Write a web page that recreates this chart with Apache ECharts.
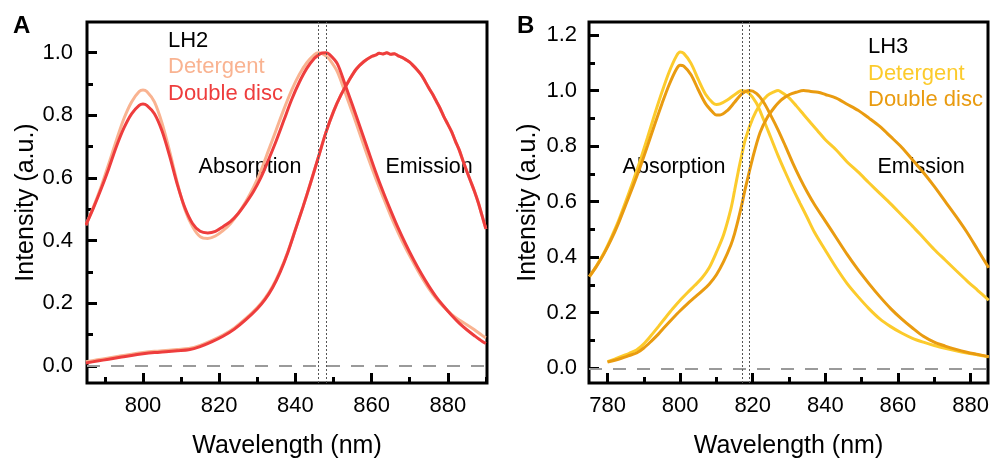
<!DOCTYPE html>
<html>
<head>
<meta charset="utf-8">
<script src="https://cdn.jsdelivr.net/npm/echarts@6/dist/echarts.min.js"></script>
<style>
  html, body { margin: 0; padding: 0; background: #fff; }
  #chart { width: 992px; height: 462px; }
</style>
</head>
<body>
<div id="chart"></div>
<script>
// ---- Panel A: LH2 absorption (normalised) ----
const lh2AbsWl = [785,787,789,791,793,795,797,799,800,801,803,805,807,809,811,813,815,817,819,821,823,825,827,829,831,833,835,837,839,841,843,845,846,847,848,849,851,853,855,857,859,861,863,865,867,869,871,873,875,877,879,881,883,885,887,889,890];
const lh2AbsDetergent = [0.450,0.508,0.572,0.645,0.720,0.790,0.843,0.876,0.881,0.876,0.843,0.775,0.685,0.585,0.500,0.445,0.413,0.407,0.415,0.432,0.455,0.487,0.525,0.570,0.625,0.690,0.755,0.820,0.880,0.930,0.968,0.994,1.000,0.997,0.990,0.978,0.940,0.875,0.808,0.738,0.668,0.602,0.540,0.480,0.425,0.375,0.330,0.287,0.248,0.215,0.188,0.165,0.147,0.132,0.116,0.098,0.090];
const lh2AbsDoubleDisc = [0.450,0.505,0.565,0.630,0.700,0.760,0.805,0.832,0.836,0.832,0.805,0.750,0.670,0.580,0.505,0.455,0.430,0.425,0.430,0.445,0.462,0.487,0.520,0.557,0.603,0.660,0.720,0.785,0.850,0.905,0.950,0.982,0.992,0.999,1.000,0.994,0.965,0.900,0.832,0.762,0.692,0.622,0.557,0.497,0.440,0.388,0.340,0.296,0.256,0.220,0.190,0.162,0.137,0.116,0.097,0.079,0.072];

// ---- Panel A: LH2 emission (normalised) ----
const lh2EmWl = [785,788,791,794,797,800,803,806,809,812,815,818,821,824,827,830,832,834,836,838,840,842,844,846,848,850,852,854,856,858,860,861,862,863,864,865,866,867,868,869,870,871,872,873,874,875,876,877,878,879,880,881,882,883,884,885,886,887,888,889,890];
const lh2EmDetergent = [0.014,0.020,0.026,0.032,0.038,0.043,0.047,0.050,0.053,0.056,0.066,0.081,0.099,0.122,0.152,0.187,0.216,0.254,0.304,0.364,0.436,0.508,0.585,0.665,0.745,0.812,0.866,0.910,0.948,0.972,0.988,0.992,0.998,0.996,1.000,0.995,0.997,0.990,0.985,0.978,0.970,0.958,0.945,0.930,0.910,0.888,0.868,0.845,0.822,0.795,0.772,0.748,0.718,0.690,0.655,0.622,0.590,0.558,0.522,0.480,0.438];
const lh2EmDoubleDisc = [0.010,0.016,0.022,0.028,0.034,0.039,0.043,0.046,0.049,0.052,0.062,0.077,0.095,0.118,0.148,0.183,0.212,0.250,0.300,0.362,0.435,0.508,0.585,0.665,0.745,0.812,0.866,0.910,0.948,0.972,0.988,0.992,0.998,0.996,1.000,0.995,0.997,0.990,0.985,0.978,0.970,0.958,0.945,0.930,0.910,0.888,0.868,0.845,0.822,0.795,0.772,0.748,0.718,0.690,0.655,0.622,0.590,0.558,0.522,0.480,0.438];

// ---- Panel B: LH3 absorption (normalised) ----
const lh3AbsWl = [775,777,779,781,783,785,787,789,791,793,795,797,799,800,801,803,805,807,809,810,811,813,815,817,819,821,823,825,827,829,831,833,835,837,840,843,846,849,852,855,858,861,864,867,870,873,876,879,882,885];
const lh3AbsDetergent = [0.330,0.370,0.415,0.470,0.530,0.600,0.672,0.748,0.830,0.915,0.995,1.068,1.125,1.139,1.134,1.098,1.040,0.987,0.956,0.950,0.952,0.966,0.985,1.000,0.990,0.955,0.895,0.830,0.765,0.705,0.648,0.595,0.543,0.490,0.425,0.362,0.305,0.258,0.215,0.178,0.150,0.127,0.108,0.094,0.082,0.072,0.063,0.055,0.048,0.041];
const lh3AbsDoubleDisc = [0.330,0.368,0.412,0.463,0.522,0.588,0.655,0.725,0.800,0.878,0.953,1.022,1.078,1.091,1.088,1.057,1.003,0.953,0.922,0.912,0.912,0.928,0.958,0.988,1.000,0.990,0.958,0.910,0.858,0.800,0.740,0.685,0.635,0.590,0.530,0.470,0.410,0.355,0.305,0.258,0.215,0.178,0.145,0.115,0.094,0.080,0.068,0.058,0.050,0.042];

// ---- Panel B: LH3 emission (normalised) ----
const lh3EmWl = [780,782,784,786,788,790,792,794,796,798,800,802,804,806,808,810,812,814,815,816,817,818,820,822,824,826,827,828,830,832,834,836,838,840,843,846,849,852,855,858,861,864,867,870,873,876,879,882,885];
const lh3EmDetergent = [0.024,0.033,0.044,0.054,0.066,0.088,0.118,0.150,0.183,0.215,0.245,0.272,0.298,0.325,0.362,0.418,0.482,0.575,0.640,0.708,0.770,0.826,0.900,0.950,0.982,0.996,1.000,0.993,0.974,0.945,0.914,0.883,0.853,0.823,0.786,0.743,0.707,0.668,0.630,0.592,0.552,0.512,0.470,0.428,0.390,0.352,0.315,0.280,0.245];
const lh3EmDoubleDisc = [0.022,0.029,0.037,0.046,0.055,0.073,0.097,0.123,0.152,0.180,0.207,0.232,0.255,0.278,0.303,0.337,0.385,0.445,0.485,0.535,0.590,0.650,0.758,0.848,0.903,0.940,0.955,0.968,0.985,0.994,1.000,0.997,0.994,0.986,0.973,0.951,0.929,0.901,0.871,0.834,0.796,0.751,0.705,0.655,0.601,0.547,0.490,0.426,0.362];

// ---- Axis ticks ----
const lh2MajorX = [800, 820, 840, 860, 880];
const lh2MinorX = [790, 810, 830, 850, 870, 890];
const lh2MajorY = [0, 0.2, 0.4, 0.6, 0.8, 1.0];
const lh2MinorY = [0.1, 0.3, 0.5, 0.7, 0.9];
const lh3MajorX = [780, 800, 820, 840, 860, 880];
const lh3MinorX = [790, 810, 830, 850, 870];
const lh3MajorY = [0, 0.2, 0.4, 0.6, 0.8, 1.0, 1.2];
const lh3MinorY = [0.1, 0.3, 0.5, 0.7, 0.9, 1.1];

const FONT = 'Liberation Sans, Arial, Helvetica, sans-serif';
const COLORS = {
  lh2Det: '#F9B391', lh2Dd: '#EE3D3D',
  lh3Det: '#FCCB2C', lh3Dd: '#E99B10'
};

const pairs = (xs, ys) => xs.map((x, i) => [x, ys[i]]);

// Wavelength of the strongest point of the Qy band (above `from` nm)
function peakOf(xs, ys, from) {
  let best = -1, at = xs[0];
  xs.forEach((x, i) => { if (x >= from && ys[i] > best) { best = ys[i]; at = x; } });
  return at;
}

function xAxesFor(gridIndex, min, max, major, minor) {
  return [
    {
      type: 'value', gridIndex, position: 'bottom', min, max,
      axisLine: { show: false, onZero: false }, splitLine: { show: false },
      axisTick: { inside: true, length: 10, customValues: major, lineStyle: { color: '#000', width: 3 } },
      axisLabel: { customValues: major, margin: 12, fontSize: 22, color: '#000', fontFamily: FONT,
                   formatter: v => String(Math.round(v)) },
      name: 'Wavelength (nm)', nameLocation: 'middle', nameGap: 51,
      nameTextStyle: { fontSize: 25, color: '#000', fontFamily: FONT }
    },
    {
      type: 'value', gridIndex, position: 'bottom', min, max,
      axisLine: { show: false, onZero: false }, splitLine: { show: false },
      axisTick: { inside: true, length: 6, customValues: minor, lineStyle: { color: '#000', width: 3 } },
      axisLabel: { show: false }
    }
  ];
}

function yAxesFor(gridIndex, min, max, major, minor, margin) {
  return [
    {
      type: 'value', gridIndex, position: 'left', min, max,
      axisLine: { show: false, onZero: false }, splitLine: { show: false },
      axisTick: { inside: true, length: 10, customValues: major, lineStyle: { color: '#000', width: 3 } },
      axisLabel: { customValues: major, margin, fontSize: 22, color: '#000', fontFamily: FONT,
                   formatter: v => v.toFixed(1) },
      name: 'Intensity (a.u.)', nameLocation: 'middle', nameGap: 48,
      nameTextStyle: { fontSize: 25, color: '#000', fontFamily: FONT }
    },
    {
      type: 'value', gridIndex, position: 'left', min, max,
      axisLine: { show: false, onZero: false }, splitLine: { show: false },
      axisTick: { inside: true, length: 6, customValues: minor, lineStyle: { color: '#000', width: 3 } },
      axisLabel: { show: false }
    }
  ];
}

function curve(xAxisIndex, yAxisIndex, data, color, extra) {
  return Object.assign({
    type: 'line', xAxisIndex, yAxisIndex, data,
    showSymbol: false, smooth: 0.3, silent: true,
    lineStyle: { color, width: 3 }
  }, extra || {});
}

// Zero baseline and peak markers drawn as mark lines
function guides(peaks) {
  return {
    markLine: {
      silent: true, symbol: ['none', 'none'], label: { show: false },
      data: [
        { yAxis: 0, lineStyle: { color: '#9a9a9a', width: 2, type: [13, 11] } }
      ].concat(peaks.map(p => ({ xAxis: p, lineStyle: { color: '#555', width: 1, type: [2, 2] } })))
    }
  };
}

const lh2Peaks = [peakOf(lh2AbsWl, lh2AbsDetergent, 830), peakOf(lh2AbsWl, lh2AbsDoubleDisc, 830)];
const lh3Peaks = [peakOf(lh3AbsWl, lh3AbsDetergent, 812), peakOf(lh3AbsWl, lh3AbsDoubleDisc, 812)];

function textItem(x, y, text, fill, opts) {
  return {
    type: 'text', silent: true,
    style: Object.assign({ x, y, text, fill, fontSize: 22, fontFamily: FONT, align: 'left', verticalAlign: 'middle' }, opts || {})
  };
}

const gridBase = { show: true, borderColor: '#000', borderWidth: 3, backgroundColor: 'transparent',
                   containLabel: false, outerBoundsMode: 'none' };

const option = {
  animation: false,
  backgroundColor: '#fff',
  grid: [
    Object.assign({ left: 87, top: 22, width: 400, height: 361 }, gridBase),
    Object.assign({ left: 589, top: 22, width: 399, height: 361 }, gridBase)
  ],
  xAxis: [
    ...xAxesFor(0, 785.3, 890.3, lh2MajorX, lh2MinorX),
    ...xAxesFor(1, 774.9, 884.8, lh3MajorX, lh3MinorX)
  ],
  yAxis: [
    ...yAxesFor(0, -0.054, 1.098, lh2MajorY, lh2MinorY, 14),
    ...yAxesFor(1, -0.053, 1.247, lh3MajorY, lh3MinorY, 12)
  ],
  series: [
    curve(0, 0, [], '#000', guides(lh2Peaks)),
    curve(0, 0, pairs(lh2AbsWl, lh2AbsDetergent), COLORS.lh2Det),
    curve(0, 0, pairs(lh2EmWl, lh2EmDetergent), COLORS.lh2Det),
    curve(0, 0, pairs(lh2AbsWl, lh2AbsDoubleDisc), COLORS.lh2Dd),
    curve(0, 0, pairs(lh2EmWl, lh2EmDoubleDisc), COLORS.lh2Dd),

    curve(2, 2, [], '#000', guides(lh3Peaks)),
    curve(2, 2, pairs(lh3AbsWl, lh3AbsDetergent), COLORS.lh3Det),
    curve(2, 2, pairs(lh3EmWl, lh3EmDetergent), COLORS.lh3Det),
    curve(2, 2, pairs(lh3AbsWl, lh3AbsDoubleDisc), COLORS.lh3Dd),
    curve(2, 2, pairs(lh3EmWl, lh3EmDoubleDisc), COLORS.lh3Dd)
  ],
  graphic: [
    textItem(13, 26, 'A', '#000', { fontSize: 24, fontWeight: 'bold' }),
    textItem(517, 26, 'B', '#000', { fontSize: 24, fontWeight: 'bold' }),

    textItem(168, 41, 'LH2', '#000'),
    textItem(168, 67, 'Detergent', COLORS.lh2Det),
    textItem(168, 94, 'Double disc', COLORS.lh2Dd),
    textItem(250, 167, 'Absorption', '#000', { align: 'center', fontSize: 21.5 }),
    textItem(429, 167, 'Emission', '#000', { align: 'center', fontSize: 21.5 }),

    textItem(868, 47, 'LH3', '#000'),
    textItem(868, 74, 'Detergent', COLORS.lh3Det),
    textItem(868, 100, 'Double disc', COLORS.lh3Dd),
    textItem(674, 167, 'Absorption', '#000', { align: 'center', fontSize: 21.5 }),
    textItem(921, 167, 'Emission', '#000', { align: 'center', fontSize: 21.5 })
  ]
};

const chart = echarts.init(document.getElementById('chart'), null, { renderer: 'canvas' });
chart.setOption(option);
</script>
</body>
</html>
